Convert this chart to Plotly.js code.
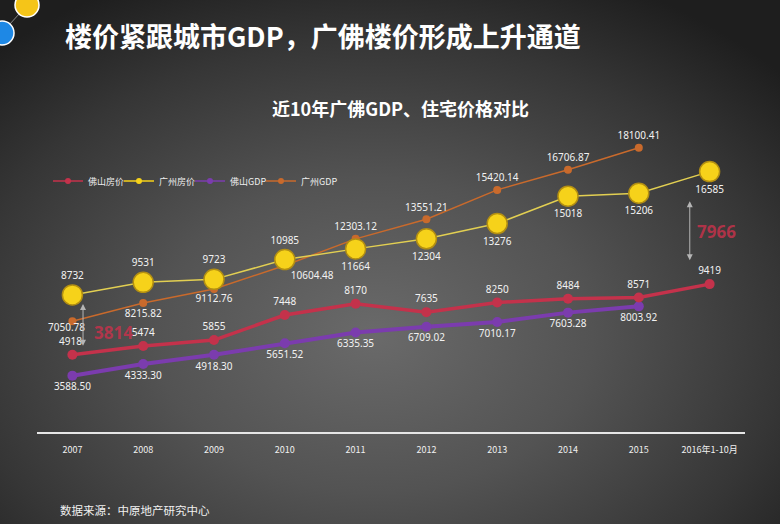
<!DOCTYPE html>
<html>
<head>
<meta charset="utf-8">
<script src="https://cdn.plot.ly/plotly-3.0.1.min.js"></script>
<style>
html,body{margin:0;padding:0;}
#wrap{width:780px;height:524px;background:
 radial-gradient(ellipse 70% 75% at 48% 64%, #6a6a6a 0%, #535353 40%, #363636 75%, #1e1e1e 100%);}
#chart{width:780px;height:524px;}
</style>
</head>
<body>
<div id="wrap"><div id="chart"></div></div>
<script>
// ---- data ----
const years = ['2007','2008','2009','2010','2011','2012','2013','2014','2015','2016年1-10月'];
const fsPrice = [4918, 5474, 5855, 7448, 8170, 7635, 8250, 8484, 8571, 9419];
const gzPrice = [8732, 9531, 9723, 10985, 11664, 12304, 13276, 15018, 15206, 16585];
const fsGDP = [3588.50, 4333.30, 4918.30, 5651.52, 6335.35, 6709.02, 7010.17, 7603.28, 8003.92];
const gzGDP = [7050.78, 8215.82, 9112.76, 10604.48, 12303.12, 13551.21, 15420.14, 16706.87, 18100.41];
const seriesNames = ['佛山房价', '广州房价', '佛山GDP', '广州GDP'];
const gapLeft = 3814;
const gapRight = 7966;

const cRed = '#c4324b', cYel = '#f6d21a', cYelLine = '#e2cf52', cPur = '#7b3cae', cOra = '#c96a2c';
const lblFont = {family: '"Noto Sans", "Noto Sans CJK SC", sans-serif', size: 10, color: '#f2f2f2'};

const traces = [
  {x: years.slice(0, gzGDP.length), y: gzGDP, type: 'scatter', mode: 'lines+markers+text',
   line: {color: cOra, width: 1.5}, marker: {color: cOra, size: 8},
   text: gzGDP.map((v, i) => i === 0 ? '' : v.toFixed(2)),
   textposition: ['bottom center','bottom center','bottom center','bottom right','top center','top center','top center','top center','top center'],
   textfont: lblFont, showlegend: false, hoverinfo: 'skip'},
  {x: years.slice(0, fsGDP.length), y: fsGDP, type: 'scatter', mode: 'lines+markers+text',
   line: {color: cPur, width: 4}, marker: {color: cPur, size: 10},
   text: fsGDP.map(v => v.toFixed(2)), textposition: 'bottom center',
   textfont: lblFont, showlegend: false, hoverinfo: 'skip'},
  {x: years, y: fsPrice, type: 'scatter', mode: 'lines+markers+text',
   line: {color: cRed, width: 3.5}, marker: {color: cRed, size: 10},
   text: fsPrice.map((v, i) => i === 0 ? '' : String(v)),
   textposition: 'top center',
   textfont: lblFont, showlegend: false, hoverinfo: 'skip'},
  {x: years, y: gzPrice, type: 'scatter', mode: 'lines+markers+text',
   line: {color: cYelLine, width: 1.5}, marker: {color: cYel, size: 20, line: {color: '#b38f12', width: 1.5}},
   text: gzPrice.map(String),
   textposition: ['top center','top center','top center','top center','bottom center','bottom center','bottom center','bottom center','bottom center','bottom center'],
   textfont: lblFont, showlegend: false, hoverinfo: 'skip'}
];
// legend entries (small symbols as in the reference)
const legendColors = [cRed, cYel, cPur, cOra];
seriesNames.forEach((n, i) => {
  traces.push({x: [null], y: [null], type: 'scatter', mode: 'lines+markers', name: n,
    legendwidth: i === seriesNames.length - 1 ? 44 : 26,
    line: {color: legendColors[i], width: 1.5}, marker: {color: legendColors[i], size: 6}, showlegend: true});
});

const pxX = px => (px - 37) / 708;
const pxY = py => (432 - py) / 314;

const layout = {
  width: 780, height: 524,
  paper_bgcolor: 'rgba(0,0,0,0)', plot_bgcolor: 'rgba(0,0,0,0)',
  margin: {l: 37, r: 35, t: 118, b: 92},
  font: {family: '"Noto Sans CJK SC", "Noto Sans", sans-serif', color: '#fff'},
  title: {text: '<b>楼价紧跟城市GDP，广佛楼价形成上升通道</b>', x: 65/780, xanchor: 'left', xref: 'container',
          y: 1 - 38/524, yanchor: 'middle', yref: 'container',
          font: {family: '"Noto Sans CJK SC", sans-serif', size: 27, color: '#ffffff'}},
  xaxis: {type: 'category', range: [-0.5, 9.5], showgrid: false, zeroline: false,
          showline: true, linecolor: '#e6e6e6', linewidth: 1.5,
          ticks: 'outside', ticklen: 9, tickcolor: 'rgba(0,0,0,0)',
          tickfont: {family: '"Noto Sans CJK SC", sans-serif', size: 9, color: '#f0f0f0'}},
  yaxis: {range: [0, 20000], visible: false, showgrid: false, zeroline: false},
  showlegend: true,
  legend: {orientation: 'h', x: pxX(48), xanchor: 'left', y: pxY(181), yanchor: 'middle',
           bgcolor: 'rgba(0,0,0,0)', itemwidth: 30, entrywidth: 26, entrywidthmode: 'pixels',
           font: {family: '"Noto Sans CJK SC", sans-serif', size: 9, color: '#eee'}},
  annotations: [
    {text: '<b>近10年广佛GDP、住宅价格对比</b>', xref: 'paper', yref: 'paper', x: pxX(400), y: pxY(108),
     xanchor: 'center', yanchor: 'middle', showarrow: false,
     font: {family: '"Noto Sans CJK SC", sans-serif', size: 18, color: '#fff'}},
    {text: '数据来源：中原地产研究中心', xref: 'paper', yref: 'paper', x: pxX(58), y: pxY(510),
     xanchor: 'left', yanchor: 'middle', showarrow: false,
     font: {family: '"Noto Sans CJK SC", sans-serif', size: 11.5, color: '#f0f0f0'}},
    // first-point labels placed with offsets (crowded spot)
    {text: gzGDP[0].toFixed(2), xref: 'x', yref: 'y', x: 0, y: gzGDP[0], xshift: -6, yshift: -6, borderpad: 0,
     xanchor: 'center', yanchor: 'middle', showarrow: false, font: lblFont},
    {text: String(fsPrice[0]), xref: 'x', yref: 'y', x: 0, y: fsPrice[0], xshift: -2, yshift: 14, borderpad: 0,
     xanchor: 'center', yanchor: 'middle', showarrow: false, font: lblFont},
    {text: '<b>' + gapLeft + '</b>', xref: 'x', yref: 'y', x: 0.58, y: 6365, showarrow: false,
     font: {family: '"Noto Sans", sans-serif', size: 17, color: 'rgba(196,50,75,0.85)'}},
    {text: '<b>' + gapRight + '</b>', xref: 'x', yref: 'y', x: 9.1, y: 12795, showarrow: false,
     font: {family: '"Noto Sans", sans-serif', size: 17, color: 'rgba(196,50,75,0.85)'}},
    {text: '', xref: 'x', yref: 'y', axref: 'x', ayref: 'y', x: 0.15, y: 8150, ax: 0.15, ay: 5400,
     showarrow: true, arrowside: 'end+start', arrowhead: 2, startarrowhead: 2, arrowsize: 1.2, startarrowsize: 1.2,
     arrowwidth: 1, arrowcolor: '#b5b5b5'},
    {text: '', xref: 'x', yref: 'y', axref: 'x', ayref: 'y', x: 8.72, y: 14700, ax: 8.72, ay: 10850,
     showarrow: true, arrowside: 'end+start', arrowhead: 2, startarrowhead: 2, arrowsize: 1.2, startarrowsize: 1.2,
     arrowwidth: 1, arrowcolor: '#b5b5b5'}
  ],
  shapes: [
    {type: 'line', xref: 'paper', yref: 'paper', x0: pxX(20), y0: pxY(13), x1: pxX(9), y1: pxY(25),
     line: {color: '#8a8a8a', width: 1}},
    {type: 'circle', xref: 'paper', yref: 'paper', x0: pxX(15), x1: pxX(39), y0: pxY(17), y1: pxY(-7),
     fillcolor: '#f5c518', line: {color: '#ffffff', width: 1.5}},
    {type: 'circle', xref: 'paper', yref: 'paper', x0: pxX(-10), x1: pxX(14), y0: pxY(45), y1: pxY(21),
     fillcolor: '#1e88e5', line: {color: '#ffffff', width: 1.5}}
  ]
};

Plotly.newPlot('chart', traces, layout, {staticPlot: true, displayModeBar: false});
</script>
</body>
</html>
